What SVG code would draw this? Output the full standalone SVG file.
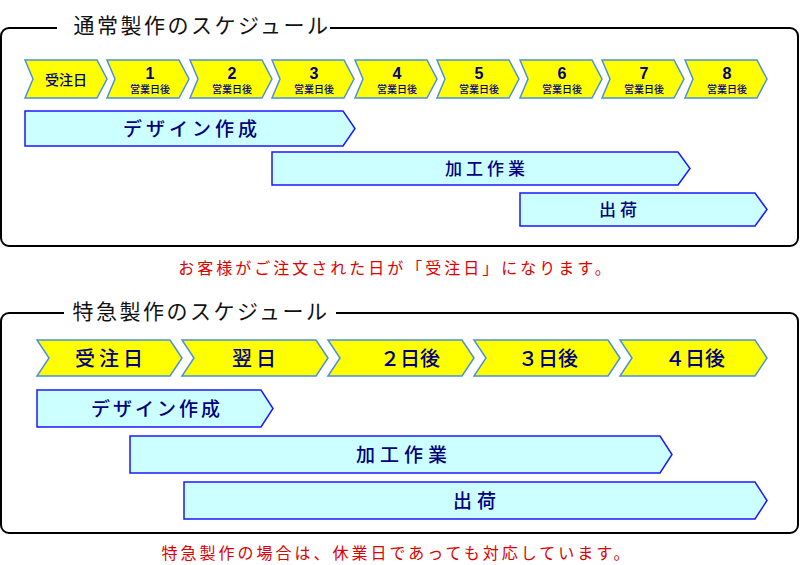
<svg xmlns="http://www.w3.org/2000/svg" width="800" height="565" viewBox="0 0 800 565">
<style>
text{font-family:"Noto Sans CJK JP","Liberation Sans",sans-serif;text-anchor:middle}
.frame{fill:none;stroke:#000;stroke-width:2}
.ttl{font-size:21px;fill:#111;letter-spacing:2.5px}
.chev{fill:#ffff00;stroke:#4a90e2;stroke-width:1.5}
.bar{fill:#ccffff;stroke:#1a1aff;stroke-width:1.5}
.ct{fill:#000080;font-weight:500}
.num{fill:#000080;font-weight:bold;font-family:"Liberation Sans",sans-serif}
.red{fill:#e00000;font-size:16px;letter-spacing:3px}
</style>
<rect x="0" y="0" width="800" height="565" fill="#fff"/>
<g id="top">
<rect class="frame" x="1" y="28" width="797" height="218" rx="8"/>
<rect x="57" y="10" width="273" height="36" fill="#fff"/>
<text class="ttl" x="202" y="33">通常製作のスケジュール</text>
<g id="tchev">
<polygon class="chev" points="25,60 97,60 107,79 97,98 25,98 33,79"/>
<polygon class="chev" points="107,60 179,60 189,79 179,98 107,98 115,79"/>
<polygon class="chev" points="190,60 262,60 272,79 262,98 190,98 198,79"/>
<polygon class="chev" points="272,60 344,60 354,79 344,98 272,98 280,79"/>
<polygon class="chev" points="355,60 427,60 437,79 427,98 355,98 363,79"/>
<polygon class="chev" points="437,60 509,60 519,79 509,98 437,98 445,79"/>
<polygon class="chev" points="520,60 592,60 602,79 592,98 520,98 528,79"/>
<polygon class="chev" points="602,60 674,60 684,79 674,98 602,98 610,79"/>
<polygon class="chev" points="685,60 757,60 767,79 757,98 685,98 693,79"/>
<text class="ct" x="66" y="85" font-size="14">受注日</text>
<g font-size="16">
<text class="num" x="150" y="79">1</text><text class="num" x="232" y="79">2</text><text class="num" x="314" y="79">3</text><text class="num" x="397" y="79">4</text><text class="num" x="479" y="79">5</text><text class="num" x="562" y="79">6</text><text class="num" x="644" y="79">7</text><text class="num" x="727" y="79">8</text>
</g>
<g font-size="10">
<text class="ct" x="150" y="93">営業日後</text><text class="ct" x="232" y="93">営業日後</text><text class="ct" x="314" y="93">営業日後</text><text class="ct" x="397" y="93">営業日後</text><text class="ct" x="479" y="93">営業日後</text><text class="ct" x="562" y="93">営業日後</text><text class="ct" x="644" y="93">営業日後</text><text class="ct" x="727" y="93">営業日後</text>
</g>
</g>
<polygon class="bar" points="25,111 343,111 355,128.5 343,146 25,146"/>
<text class="ct" x="192" y="136" font-size="19" letter-spacing="4">デザイン作成</text>
<polygon class="bar" points="272,152 678,152 690,168.5 678,185 272,185"/>
<text class="ct" x="487" y="175" font-size="17" letter-spacing="4">加工作業</text>
<polygon class="bar" points="520,193 755,193 767,209.5 755,226 520,226"/>
<text class="ct" x="620" y="216" font-size="17" letter-spacing="4">出荷</text>
</g>
<text class="red" x="396" y="274">お客様がご注文された日が「受注日」になります。</text>
<g id="bottom">
<rect class="frame" x="1" y="313" width="797" height="220" rx="8"/>
<rect x="64" y="295" width="272" height="36" fill="#fff"/>
<text class="ttl" x="201" y="319">特急製作のスケジュール</text>
<polygon class="chev" points="37,340 170,340 182,358 170,376 37,376 49,358"/>
<polygon class="chev" points="182,340 316,340 328,358 316,376 182,376 194,358"/>
<polygon class="chev" points="328,340 462,340 474,358 462,376 328,376 340,358"/>
<polygon class="chev" points="474,340 608,340 620,358 608,376 474,376 486,358"/>
<polygon class="chev" points="620,340 755,340 767,358 755,376 620,376 632,358"/>
<g font-size="20">
<text class="ct" x="111" y="366" letter-spacing="4">受注日</text>
<text class="ct" x="256" y="366" letter-spacing="4">翌日</text>
<text class="ct" x="410" y="366">２日後</text>
<text class="ct" x="548" y="366">３日後</text>
<text class="ct" x="695" y="366">４日後</text>
</g>
<polygon class="bar" points="37,390 261,390 273,408.5 261,427 37,427"/>
<text class="ct" x="157" y="416" font-size="19" letter-spacing="3">デザイン作成</text>
<polygon class="bar" points="130,436 660,436 672,454.5 660,473 130,473"/>
<text class="ct" x="404" y="462" font-size="19" letter-spacing="5">加工作業</text>
<polygon class="bar" points="184,482 755,482 767,500.5 755,519 184,519"/>
<text class="ct" x="477" y="508" font-size="19" letter-spacing="5">出荷</text>
</g>
<text class="red" x="397" y="559">特急製作の場合は、休業日であっても対応しています。</text>
</svg>
